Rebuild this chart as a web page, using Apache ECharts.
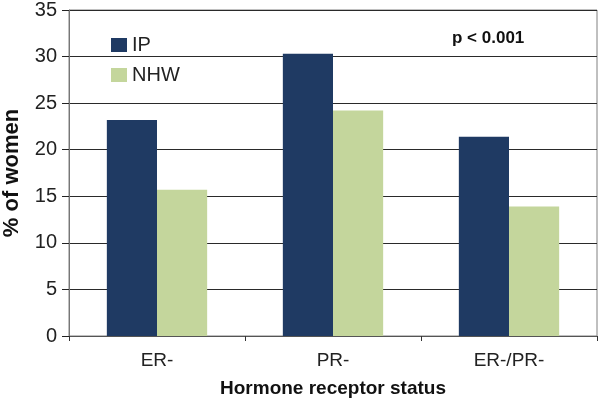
<!DOCTYPE html>
<html>
<head>
<meta charset="utf-8">
<script src="https://cdn.jsdelivr.net/npm/echarts@6/dist/echarts.min.js"></script>
<style>
  html, body { margin: 0; padding: 0; background: #fff; }
  #chart { width: 601px; height: 404px; }
</style>
</head>
<body>
<div id="chart"></div>
<script>
// data
var categories = ['ER-', 'PR-', 'ER-/PR-'];
var ipValues = [23.2, 30.3, 21.4];
var nhwValues = [15.7, 24.2, 13.9];
var yTicks = [0, 5, 10, 15, 20, 25, 30, 35];

var font = 'Liberation Sans, Arial, sans-serif';
var chart = echarts.init(document.getElementById('chart'));

chart.setOption({
  animation: false,
  textStyle: { fontFamily: font },
  grid: {
    left: 69, right: 4, top: 10, bottom: 68,
    outerBoundsMode: 'none',
    show: true, borderColor: '#808080', borderWidth: 1
  },
  legend: {
    orient: 'vertical',
    left: 106,
    top: 29,
    itemWidth: 16,
    itemHeight: 14,
    itemGap: 8,
    icon: 'rect',
    textStyle: { fontSize: 20, color: '#222', fontFamily: font, lineHeight: 22 },
    data: ['IP', 'NHW']
  },
  graphic: [{
    type: 'text',
    left: 452,
    top: 30,
    style: { text: 'p < 0.001', font: 'bold 17px ' + font, fill: '#111' }
  }],
  xAxis: {
    type: 'category',
    data: categories,
    name: 'Hormone receptor status',
    nameLocation: 'middle',
    nameGap: 43,
    nameTextStyle: { fontSize: 19, fontWeight: 'bold', color: '#111' },
    axisLine: { lineStyle: { color: '#555' } },
    axisTick: { show: true, length: 5, lineStyle: { color: '#333' } },
    axisLabel: { fontSize: 19, color: '#222', margin: 15 }
  },
  yAxis: {
    type: 'value',
    min: yTicks[0],
    max: yTicks[yTicks.length - 1],
    interval: 5,
    name: '% of women',
    nameLocation: 'middle',
    nameGap: 46,
    nameTextStyle: { fontSize: 22, fontWeight: 'bold', color: '#111' },
    axisLine: { show: true, lineStyle: { color: '#777' } },
    axisTick: { show: true, length: 7, inside: false, lineStyle: { color: '#222' } },
    axisLabel: { fontSize: 20, color: '#222', margin: 12 },
    splitLine: { lineStyle: { color: '#2a2a2a', width: 1 } }
  },
  series: [
    {
      name: 'IP',
      type: 'bar',
      data: ipValues,
      barGap: '0%',
      barCategoryGap: '43%',
      itemStyle: { color: '#1f3a63' }
    },
    {
      name: 'NHW',
      type: 'bar',
      data: nhwValues,
      itemStyle: { color: '#c4d69c' }
    }
  ]
});
</script>
</body>
</html>
